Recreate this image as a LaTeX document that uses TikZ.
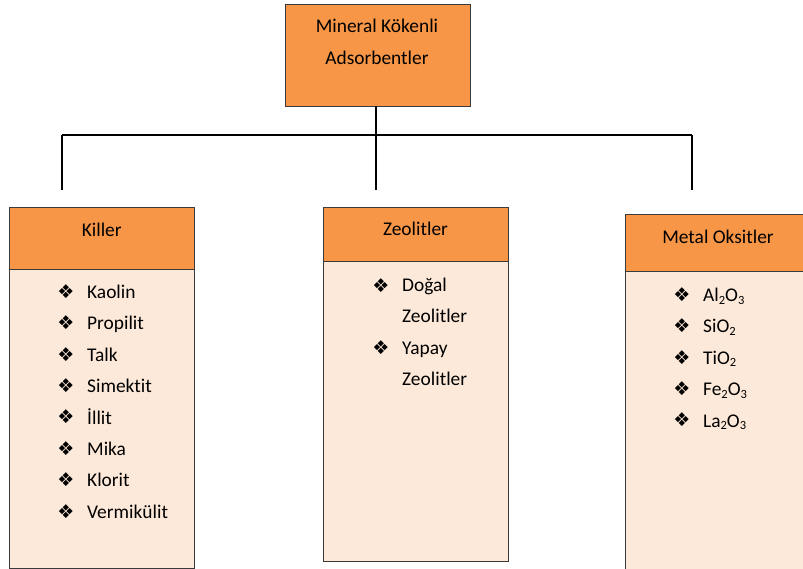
\documentclass[tikz,border=0pt]{standalone}
\usepackage{fontspec}
\setmainfont{Carlito}[Ligatures=CommonOff]
\newfontfamily\dingfont{DejaVu Sans}
\usetikzlibrary{positioning}

\definecolor{headorange}{HTML}{F79646}
\definecolor{bodypeach}{HTML}{FDE9D9}
\definecolor{edgegray}{HTML}{3A3A3A}

% chemical subscript
\newcommand{\chemsub}[1]{\raisebox{-0.28ex}{\fontsize{12.5bp}{14bp}\selectfont #1}}
% list marker
\newcommand{\itemmark}{{\dingfont\fontsize{19bp}{20bp}\selectfont ❖}}

\tikzset{
  txt/.style={font=\fontsize{19.4bp}{32bp}\selectfont, inner sep=0pt},
  headbox/.style={draw=edgegray, line width=0.9bp, fill=headorange, inner sep=0pt},
  bodybox/.style={draw=edgegray, line width=0.9bp, fill=bodypeach, inner sep=0pt},
  link/.style={draw=black, line width=1.4bp},
  bul/.style={inner sep=0pt, anchor=center},
  itm/.style={txt, anchor=base west},
}

\begin{document}
\begin{tikzpicture}[x=1bp, y=-1bp]
  \clip (0,0) rectangle (803,569);
  \fill[white] (0,0) rectangle (803,569);

  % top box
  \node[headbox, minimum width=185bp, minimum height=102bp] (top) at (377.5,55) {};
  \node[txt, anchor=base] (t1) at (377,33) {Mineral Kökenli};
  \node[txt, anchor=base] (t2) at (377,65) {Adsorbentler};

  % connectors
  \coordinate (j) at (376,135);
  \coordinate (jl) at (62,135);
  \coordinate (jr) at (692,135);
  \coordinate (el) at (62,190);
  \coordinate (ec) at (376,190);
  \coordinate (er) at (692,190);
  \draw[link] (top.south -| j) -- (ec);
  \draw[link] (jl) -- (jr);
  \draw[link] (jl) -- (el);
  \draw[link] (jr) -- (er);

  % Killer
  \node[bodybox, minimum width=184.5bp, minimum height=299bp] (kb) at (101.75,418.5) {};
  \node[headbox, minimum width=184.5bp, minimum height=62bp] (kh) at (101.75,238) {};
  \node[txt, anchor=base] (kt) at (101.75,237) {Killer};
  \foreach \t [count=\i from 0] in {Kaolin,Propilit,Talk,Simektit,İllit,Mika,Klorit,Vermikülit} {
    \node[bul] (kbul\i) at (66,291.5+31.4*\i) {\itemmark};
    \node[itm] (ki\i) at (87,298.5+31.4*\i) {\t};
  }

  % Zeolitler
  \node[bodybox, minimum width=185bp, minimum height=300bp] (zb) at (415.5,411) {};
  \node[headbox, minimum width=185bp, minimum height=54bp] (zh) at (415.5,234) {};
  \node[txt, anchor=base] (zt) at (415.5,236) {Zeolitler};
  \node[bul] (zbul0) at (381,285.5) {\itemmark};
  \node[itm] (zi0) at (402,291.5) {Doğal};
  \node[itm] (zi1) at (402,322.8) {Zeolitler};
  \node[bul] (zbul1) at (381,348.1) {\itemmark};
  \node[itm] (zi2) at (402,354.2) {Yapay};
  \node[itm] (zi3) at (402,385.5) {Zeolitler};

  % Metal Oksitler
  \node[bodybox, minimum width=186bp, minimum height=310bp] (mb) at (718,426) {};
  \node[headbox, minimum width=186bp, minimum height=57bp] (mh) at (718,242.5) {};
  \node[txt, anchor=base] (mt) at (718,243) {Metal Oksitler};
  \node[bul] (mbul0) at (682,294.5) {\itemmark};
  \node[itm] (mi0) at (703,301.5) {Al\chemsub{2}O\chemsub{3}};
  \node[bul] (mbul1) at (682,325.9) {\itemmark};
  \node[itm] (mi1) at (703,332.9) {SiO\chemsub{2}};
  \node[bul] (mbul2) at (682,357.3) {\itemmark};
  \node[itm] (mi2) at (703,364.3) {TiO\chemsub{2}};
  \node[bul] (mbul3) at (682,388.7) {\itemmark};
  \node[itm] (mi3) at (703,395.7) {Fe\chemsub{2}O\chemsub{3}};
  \node[bul] (mbul4) at (682,420.1) {\itemmark};
  \node[itm] (mi4) at (703,427.1) {La\chemsub{2}O\chemsub{3}};
\end{tikzpicture}
\end{document}
